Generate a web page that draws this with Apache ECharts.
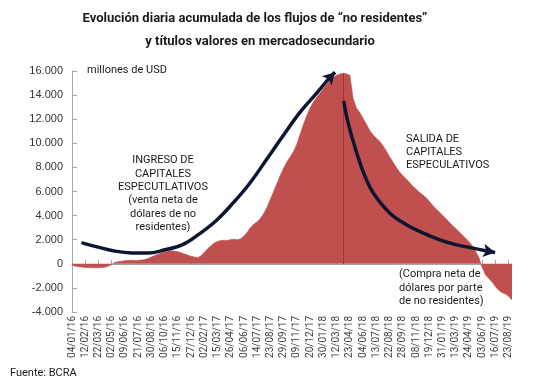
<!DOCTYPE html>
<html>
<head>
<meta charset="utf-8">
<script src="https://cdn.jsdelivr.net/npm/echarts@6/dist/echarts.min.js"></script>
<style>
html,body{margin:0;padding:0;background:#fff;}
#chart{width:547px;height:386px;}
</style>
</head>
<body>
<div id="chart"></div>
<script>
// ---- data ----
const tickLabels = ['04/01/16','12/02/16','22/03/16','02/05/16','09/06/16','21/07/16','30/08/16','06/10/16','15/11/16','27/12/16','02/02/17','15/03/17','26/04/17','06/06/17','14/07/17','23/08/17','29/09/17','09/11/17','20/12/17','30/01/18','12/03/18','23/04/18','04/06/18','13/07/18','22/08/18','28/09/18','08/11/18','19/12/18','31/01/19','13/03/19','24/04/19','03/06/19','16/07/19','23/08/19'];
const pointsPerTick = 4;
const flowValues = [
  -100,-200,-240,-270,-300,-315,-325,-330,-320,-300,
  -280,-190,-60,120,180,210,250,280,290,250,
  280,310,350,440,560,690,790,890,990,1060,
  1100,1050,1000,920,810,720,630,560,500,660,
  950,1250,1500,1720,1860,1930,1960,1940,2020,2040,
  2000,2080,2300,2630,3030,3300,3500,3780,4200,4720,
  5380,6040,6700,7360,7950,8480,8880,9330,9960,10800,
  11600,12330,12950,13450,13820,14180,14550,14920,15230,15470,
  15650,15760,15820,15760,15650,13700,12900,12550,12050,11580,
  11070,10700,10420,10180,9800,9360,8890,8450,8020,7620,
  7320,7040,6760,6440,6200,5930,5720,5500,5190,4860,
  4560,4290,4020,3760,3450,3180,2920,2660,2390,2120,
  1830,1500,1050,520,-300,-920,-1230,-1500,-1900,-2200,
  -2400,-2500,-2700,-3000
];
const yTicks = [-4000,-2000,0,2000,4000,6000,8000,10000,12000,14000,16000];
// annotation arrows (approximate path, in [point index, value])
const arrowIn = [[3.3,1720],[7.9,1380],[13,1050],[18.1,900],[23,890],[28.1,1160],[33.3,1570],[38.1,2400],[43.8,3640],[48.7,5050],[53.8,6710],[58.9,8690],[63.8,10620],[68.9,12560],[74.1,14210],[77.1,15210]];
const arrowInTip = [79.5,15900];
const arrowOut = [[82.2,13410],[83.5,11650],[86.1,9170],[88.6,7230],[91.1,5850],[96.1,4200],[101.2,3230],[106.2,2540],[111.2,1990],[116.3,1570],[121.3,1300],[125.0,1080]];
const arrowOutTip = [127.9,940];

// ---- build ----
const N = flowValues.length;
const categories = flowValues.map((v,i)=> (i % pointsPerTick === 0 && tickLabels[i/pointsPerTick]) ? tickLabels[i/pointsPerTick] : '');
let peakIdx = 0;
flowValues.forEach((v,i)=>{ if (v > flowValues[peakIdx]) peakIdx = i; });
const fmt = v => {
  const s = Math.abs(v).toString().replace(/\B(?=(\d{3})+(?!\d))/g,'.');
  return (v < 0 ? '-' : '') + s;
};
const arrowColor = '#0d1530';
const txt = '#1a1a1a';

const chart = echarts.init(document.getElementById('chart'), null, {renderer:'canvas'});
chart.setOption({
  animation:false,
  backgroundColor:'#ffffff',
  grid:{left:72,right:35,top:71,bottom:74,containLabel:false},
  xAxis:[
    {type:'category',data:categories,boundaryGap:false,position:'bottom',
     axisLine:{show:false,onZero:false},axisTick:{show:false},
     axisLabel:{rotate:90,interval:(i)=>i%pointsPerTick===0,margin:4,fontSize:10,color:'#404040',fontFamily:'Roboto'}},
    {type:'category',data:categories,boundaryGap:false,position:'bottom',
     axisLine:{show:true,onZero:true,lineStyle:{color:'#a6a6a6',width:1}},
     axisTick:{show:true,inside:true,length:4,interval:(i)=>i%pointsPerTick===0,lineStyle:{color:'#a6a6a6'}},
     axisLabel:{show:false},splitLine:{show:false}},
    {type:'value',min:0,max:N-1,show:false}
  ],
  yAxis:{type:'value',min:yTicks[0],max:yTicks[yTicks.length-1],interval:yTicks[1]-yTicks[0],
    axisLine:{show:true,onZero:false,lineStyle:{color:'#a6a6a6'}},
    axisTick:{show:true,inside:true,length:5,lineStyle:{color:'#a6a6a6'}},
    splitLine:{show:false},
    axisLabel:{formatter:fmt,fontSize:11,color:'#333333',fontFamily:'Liberation Sans',margin:9}},
  series:[
    {type:'line',xAxisIndex:0,data:flowValues,showSymbol:false,symbol:'none',
     lineStyle:{width:0.6,color:'#c0504d'},areaStyle:{color:'#c0504d',opacity:1},
     z:2,silent:true,
     markLine:{silent:true,symbol:'none',label:{show:false},
       lineStyle:{type:'dotted',color:'#7b2020',width:1},
       data:[[{coord:[peakIdx,0]},{coord:[peakIdx,flowValues[peakIdx]]}]]}},
    {type:'line',xAxisIndex:2,data:arrowIn,smooth:0.4,showSymbol:false,symbol:'none',
     lineStyle:{width:3.5,color:arrowColor,cap:'round'},z:5,silent:true,
     markLine:{silent:true,symbol:['none','arrow'],symbolSize:[10,12],label:{show:false},
       lineStyle:{type:'solid',color:arrowColor,width:3.5},
       data:[[{coord:arrowIn[arrowIn.length-1]},{coord:arrowInTip}]]}},
    {type:'line',xAxisIndex:2,data:arrowOut,smooth:0.4,showSymbol:false,symbol:'none',
     lineStyle:{width:3.5,color:arrowColor,cap:'round'},z:5,silent:true,
     markLine:{silent:true,symbol:['none','arrow'],symbolSize:[10,12],label:{show:false},
       lineStyle:{type:'solid',color:arrowColor,width:3.5},
       data:[[{coord:arrowOut[arrowOut.length-1]},{coord:arrowOutTip}]]}}
  ],
  graphic:[
    {type:'text',x:255,y:12,style:{text:'Evolución diaria acumulada de los flujos de “no residentes”',
      font:'bold 13px Roboto',fill:'#1a1a1a',align:'center'}},
    {type:'text',x:260,y:35,style:{text:'y títulos valores en mercadosecundario',
      font:'bold 13px Roboto',fill:'#1a1a1a',align:'center'}},
    {type:'text',x:87,y:65,style:{text:'millones de USD',font:'11px Roboto',fill:txt}},
    {type:'text',x:163,y:154,style:{text:'INGRESO DE\nCAPITALES\nESPECUTLATIVOS\n(venta neta de\ndólares de no\nresidentes)',
      font:'11px Roboto',fill:txt,align:'center',lineHeight:13.3}},
    {type:'text',x:406,y:133,style:{text:'SALIDA DE\nCAPITALES\nESPECULATIVOS',font:'11px Roboto',fill:txt,lineHeight:12.7}},
    {type:'text',x:399,y:268,style:{text:'(Compra neta de\ndólares por parte\nde no residentes)',font:'11px Roboto',fill:txt,lineHeight:13.2}},
    {type:'text',x:10,y:368,style:{text:'Fuente: BCRA',font:'11px Roboto',fill:txt}}
  ]
});
</script>
</body>
</html>
